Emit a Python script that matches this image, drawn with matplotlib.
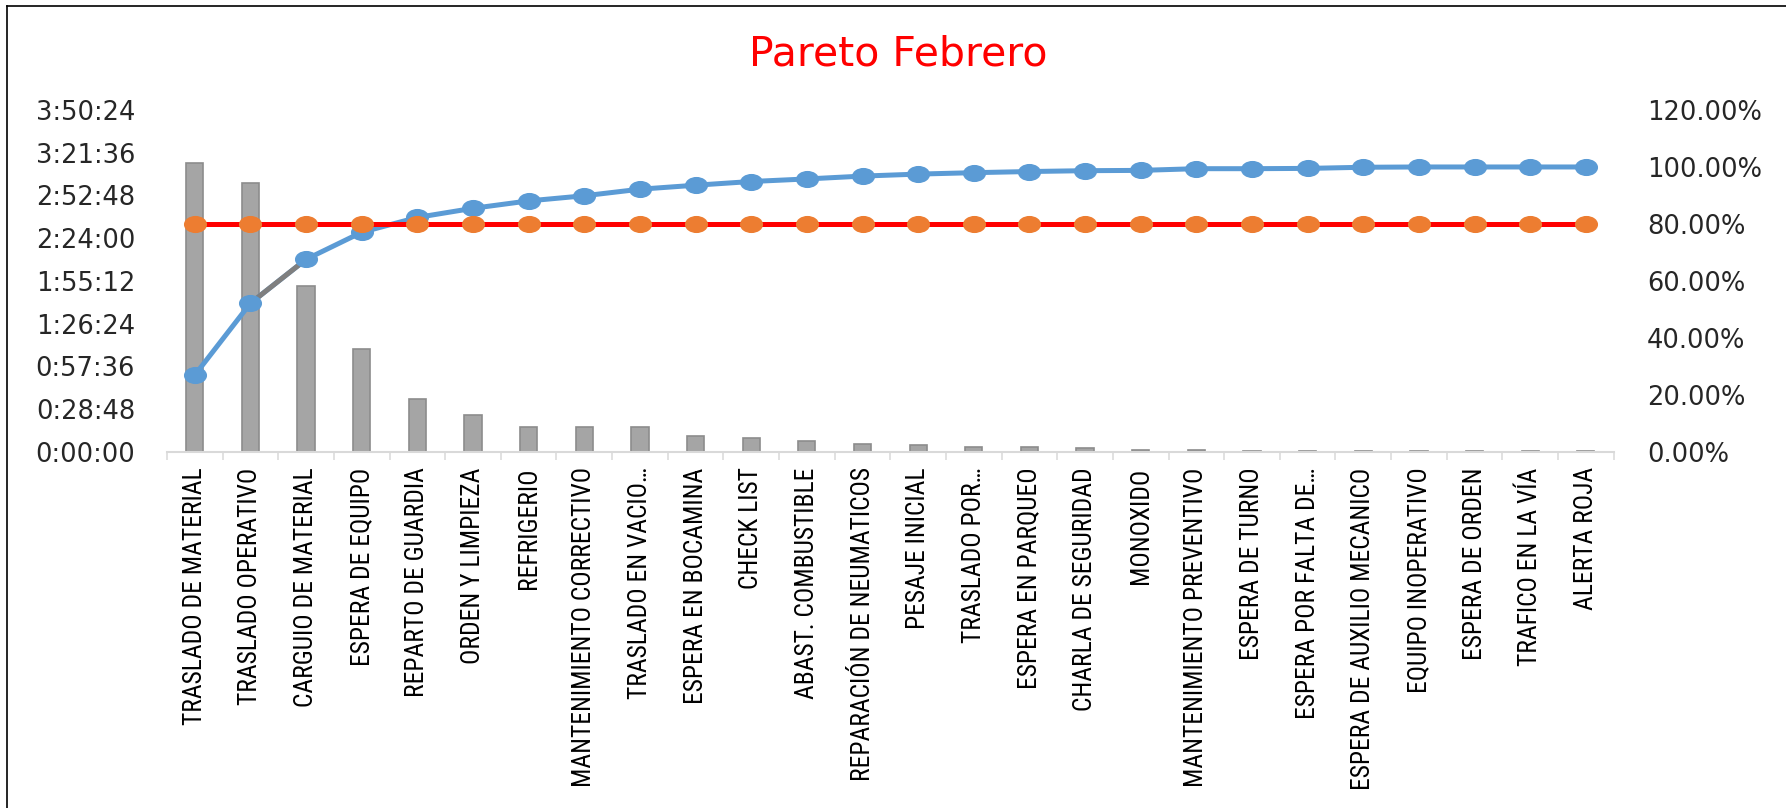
import matplotlib
matplotlib.use('Agg')
import matplotlib.pyplot as plt
from matplotlib import font_manager
from matplotlib.font_manager import FontProperties
from matplotlib.path import Path
from matplotlib.transforms import Affine2D
from matplotlib.ticker import FixedLocator, FuncFormatter
import matplotlib.lines as mlines

# --- DATA ---
categories = [
    "TRASLADO DE MATERIAL", "TRASLADO OPERATIVO", "CARGUIO DE MATERIAL",
    "ESPERA DE EQUIPO", "REPARTO DE GUARDIA", "ORDEN Y LIMPIEZA", "REFRIGERIO",
    "MANTENIMIENTO CORRECTIVO", "TRASLADO EN VACIO…", "ESPERA EN BOCAMINA",
    "CHECK LIST", "ABAST. COMBUSTIBLE", "REPARACIÓN DE NEUMATICOS",
    "PESAJE INICIAL", "TRASLADO POR…", "ESPERA EN PARQUEO",
    "CHARLA DE SEGURIDAD", "MONOXIDO", "MANTENIMIENTO PREVENTIVO",
    "ESPERA DE TURNO", "ESPERA POR FALTA DE…", "ESPERA DE AUXILIO MECANICO",
    "EQUIPO INOPERATIVO", "ESPERA DE ORDEN", "TRAFICO EN LA VÍA", "ALERTA ROJA",
]
# downtime per cause, in seconds
duration_s = [11694, 10885, 6710, 4151, 2142, 1483, 998, 998, 998, 659,
              554, 457, 330, 271, 200, 200, 162, 100, 100, 54,
              54, 45, 45, 45, 45, 45]
# cumulative share (%)
cumulative_pct = [27.0, 52.2, 67.6, 77.1, 82.3, 85.5, 88.1, 89.9, 92.2, 93.6,
                  94.9, 95.8, 96.8, 97.5, 98.0, 98.4, 98.7, 98.8, 99.4, 99.4,
                  99.5, 99.9, 100.0, 100.0, 100.0, 100.0]
target_pct = [80.0] * len(categories)

left_ticks = [i * 1728 for i in range(9)]          # 0:00:00 .. 3:50:24
right_ticks = [0, 20, 40, 60, 80, 100, 120]

BLUE = '#5b9bd5'
ORANGE = '#ed7d31'

def hms(v, pos=None):
    v = int(round(v))
    return f"{v // 3600}:{(v % 3600) // 60:02d}:{v % 60:02d}"

# pick a narrow face for the category labels if one is installed
def narrow_font():
    names = {f.name for f in font_manager.fontManager.ttflist}
    for fam in ['Liberation Sans Narrow', 'Roboto Condensed', 'Open Sans Condensed', 'Noto Sans Condensed']:
        if fam in names:
            return FontProperties(family=fam)
    for f in font_manager.fontManager.ttflist:
        if f.stretch in ('condensed', 'semi-condensed') and f.style == 'normal' and f.weight in (400, 'normal'):
            return FontProperties(family=f.name, stretch=f.stretch)
    return FontProperties(family='DejaVu Sans')

# wide elliptical marker
ellipse = Path.unit_circle().transformed(Affine2D().scale(1.38, 1.0))

fig = plt.figure(figsize=(17.86, 8.08), dpi=100)
ax = fig.add_axes([0.0935, 0.4406, 0.8100, 0.4233])
x = list(range(len(categories)))

# size the category labels so the longest one spans about 320 px
label_fp = narrow_font()
label_fp.set_size(10)
renderer = fig.canvas.get_renderer()
w10, _, _ = renderer.get_text_width_height_descent("MANTENIMIENTO CORRECTIVO", label_fp, ismath=False)
label_fp.set_size(10 * 320 / w10)

ax.bar(x, duration_s, width=0.31, color='#a5a5a5', edgecolor='#8c8c8c', linewidth=1.2, zorder=2)
ax.set_xlim(-0.5, len(categories) - 0.5)
ax.set_ylim(0, left_ticks[-1])
ax.yaxis.set_major_locator(FixedLocator(left_ticks))
ax.yaxis.set_major_formatter(FuncFormatter(hms))

for s in ['top', 'right', 'left']:
    ax.spines[s].set_visible(False)
ax.spines['bottom'].set_color('#d9d9d9')
ax.spines['bottom'].set_linewidth(1.5)

ax.set_xticks(x)
ax.set_xticklabels(categories, rotation=90, fontproperties=label_fp, color='black')
ax.tick_params(axis='x', which='major', length=0, pad=11)
ax.set_xticks([i + 0.5 for i in range(-1, len(categories))], minor=True)
ax.tick_params(axis='x', which='minor', length=5.8, width=1.1, color='#d9d9d9', direction='out')
ax.tick_params(axis='y', length=0, pad=23, labelsize=18.5, labelcolor='#262626')

ax2 = ax.twinx()
ax2.set_ylim(0, 120)
ax2.yaxis.set_major_locator(FixedLocator(right_ticks))
ax2.yaxis.set_major_formatter(FuncFormatter(lambda v, p: f"{v:.2f}%"))
ax2.tick_params(axis='y', length=0, pad=24, labelsize=18.5, labelcolor='#262626')
for s in ax2.spines.values():
    s.set_visible(False)

# cumulative line; the 2nd->3rd segment is drawn in gray
ax2.plot(x, cumulative_pct, color=BLUE, lw=3.6, zorder=2, solid_capstyle='round')
ax2.plot(x[1:3], cumulative_pct[1:3], color='#7f7f7f', lw=3.6, zorder=2.1)
ax2.plot(x, cumulative_pct, ls='none', marker=ellipse, ms=15.6, mfc=BLUE, mec=BLUE, zorder=2.2)

# 80% reference
ax2.plot(x, target_pct, color='#ff0000', lw=3.6, marker=ellipse, ms=15.6,
         mfc=ORANGE, mec=ORANGE, zorder=3)

fig.text(0.503, 1 - 65 / 808, "Pareto Febrero", color='#ff0000', fontsize=29.5,
         ha='center', va='baseline')

# chart frame
fig.add_artist(mlines.Line2D([6.5 / 1786, 6.5 / 1786], [0, 1 - 6 / 808], color='black', lw=1.2,
                             transform=fig.transFigure))
fig.add_artist(mlines.Line2D([6.5 / 1786, 1], [1 - 6 / 808, 1 - 6 / 808], color='black', lw=1.2,
                             transform=fig.transFigure))

fig.savefig('out.png', dpi=100)
